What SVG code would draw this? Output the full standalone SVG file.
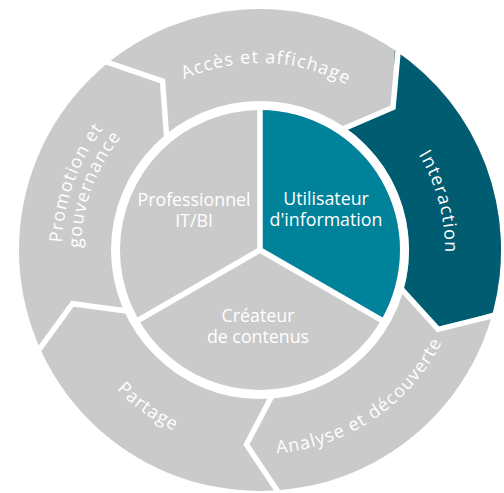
<svg xmlns="http://www.w3.org/2000/svg" width="504" height="493" viewBox="0 0 504 493">
<defs>
<style>
.g{fill:#cacaca}
.t1{fill:#00829b}
.t2{fill:#005c71}
.cut{fill:none;stroke:#fff;stroke-width:5.5;stroke-linejoin:miter}
.div{stroke:#fff;stroke-width:5.5}
.lbl{font-family:"Open Sans","Liberation Sans",sans-serif;font-size:17.8px;fill:#fff}
.rl{font-family:"Open Sans","Liberation Sans",sans-serif;font-size:18px;fill:#fff;letter-spacing:1.1px}
</style>
<path id="pAcc" d="M102.3,151.4 A185,185 0 0 1 424.2,162.7"/>
<path id="pInt" d="M307.9,71.3 A185,185 0 0 1 390.8,380.8"/>
<path id="pAna" d="M170.6,433.4 A204,204 0 0 0 463.5,235.8"/>
<path id="pPar" d="M60.9,230.8 A200,200 0 0 0 342.9,432"/>
<path id="pPro1" d="M107.6,377.9 A200,200 0 0 1 225.4,54"/>
<path id="pPro2" d="M122.9,365.1 A179,179 0 0 1 228.9,73.7"/>
</defs>
<g id="ring">
<circle class="g" cx="260" cy="250" r="241"/>
</g>
<g id="interaction">
<path class="t2" d="M394.8,50.2 A241,241 0 0 1 492.8,312.4 L438.1,329.3 L403.9,288.6 A149,149 0 0 0 343.3,126.5 L393,107.4 Z"/>
</g>
<g id="connectors">
<polyline class="cut" points="100.6,60 162.5,81.1 166.8,138.9"/>
<polyline class="cut" points="398.7,44.4 393,107.4 341.1,129.8"/>
<polyline class="cut" points="499.5,314.2 438.1,329.3 400.1,287.5"/>
<polyline class="cut" points="281.6,497.1 246.4,444.5 272.6,394.4"/>
<polyline class="cut" points="35.2,354.8 72.5,303.7 128.6,311.3"/>
</g>
<circle cx="260" cy="250" r="149" fill="#fff"/>
<g id="core">
<circle class="g" cx="260" cy="250" r="140"/>
<path class="t1" d="M260,250 L260,110 A140,140 0 0 1 381.2,320 Z"/>
<line class="div" x1="260" y1="250" x2="260" y2="108"/>
<line class="div" x1="260" y1="250" x2="383" y2="321"/>
<line class="div" x1="260" y1="250" x2="137" y2="321"/>
</g>
<g id="acces"><text class="rl" text-anchor="middle"><textPath href="#pAcc" startOffset="50%">Accès et affichage</textPath></text></g>
<g id="interaction-label"><text class="rl" text-anchor="middle"><textPath href="#pInt" startOffset="50%">Interaction</textPath></text></g>
<g id="analyse"><text class="rl" text-anchor="middle"><textPath href="#pAna" startOffset="50%">Analyse et découverte</textPath></text></g>
<g id="partage"><text class="rl" text-anchor="middle"><textPath href="#pPar" startOffset="50%">Partage</textPath></text></g>
<g id="promotion">
<text class="rl" text-anchor="middle"><textPath href="#pPro1" startOffset="50%">Promotion et</textPath></text>
<text class="rl" text-anchor="middle"><textPath href="#pPro2" startOffset="50%">gouvernance</textPath></text>
</g>
<g id="professionnel"><text class="lbl" text-anchor="middle"><tspan x="194" y="206">Professionnel</tspan><tspan x="194" y="227">IT/BI</tspan></text></g>
<g id="utilisateur"><text class="lbl" text-anchor="middle"><tspan x="326" y="205">Utilisateur</tspan><tspan x="326" y="226">d'information</tspan></text></g>
<g id="createur"><text class="lbl" text-anchor="middle"><tspan x="258" y="322">Créateur</tspan><tspan x="258" y="343">de contenus</tspan></text></g>
</svg>
